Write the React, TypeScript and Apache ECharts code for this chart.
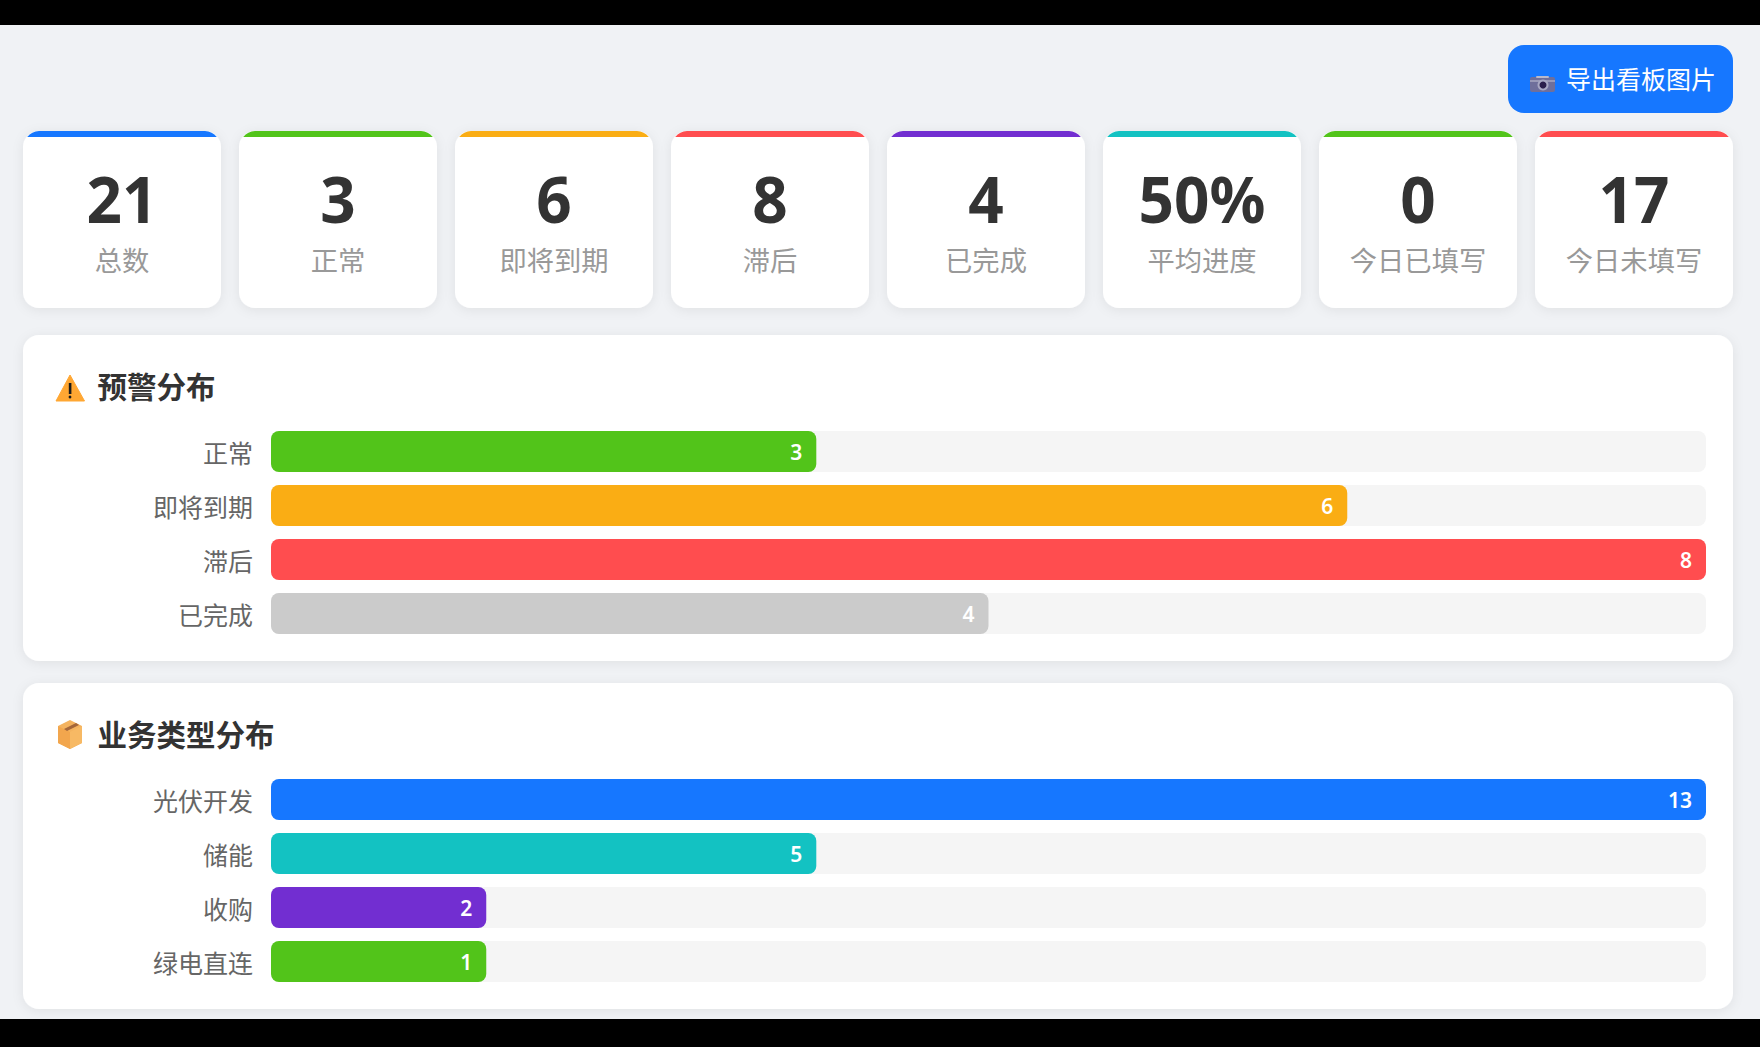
import React, { useEffect, useRef } from "react";
import * as echarts from "echarts";

const cardValues = ["21", "3", "6", "8", "4", "50%", "0", "17"];
const cardLabels = ["总数", "正常", "即将到期", "滞后", "已完成", "平均进度", "今日已填写", "今日未填写"];
const cardColors = ["#1677ff", "#52c41a", "#faad14", "#ff4d4f", "#722ed1", "#13c2c2", "#52c41a", "#ff4d4f"];

const alertCategories = ["正常", "即将到期", "滞后", "已完成"];
const alertCounts = [3, 6, 8, 4];
const alertBarPercents = [38, 75, 100, 50];
const alertColors = ["#52c41a", "#faad14", "#ff4d4f", "#cbcbcb"];

const bizCategories = ["光伏开发", "储能", "收购", "绿电直连"];
const bizCounts = [13, 5, 2, 1];
const bizBarPercents = [100, 38, 15, 15];
const bizColors = ["#1677ff", "#13c2c2", "#722ed1", "#52c41a"];

const FONT = '"Noto Sans CJK SC", "Noto Sans", sans-serif';
const NUM_FONT = '"Noto Sans", "Noto Sans CJK SC", sans-serif';

echarts.graphic.registerShape(
  "cardStrip",
  echarts.graphic.extendPath("M4.2 6 A16 16 0 0 1 16 0 L182 0 A16 16 0 0 1 193.8 6 Z", {})
);

const shadow = { shadowBlur: 12, shadowColor: "rgba(0,0,0,0.07)", shadowOffsetY: 2 };

function text(t: string, x: number, y: number, fill: string, fontSize: number, fontWeight: any, align = "center", fontFamily = FONT) {
  return {
    type: "text",
    z: 3,
    style: { text: t, x, y, fill, fontSize, fontWeight, fontFamily, textAlign: align, textVerticalAlign: "middle" },
  };
}

function buildGraphics() {
  const g: any[] = [
    { type: "rect", shape: { x: 0, y: 0, width: 1760, height: 25 }, style: { fill: "#000" } },
    { type: "rect", shape: { x: 0, y: 1019, width: 1760, height: 28 }, style: { fill: "#000" } },
    { type: "rect", shape: { x: 1508, y: 45, width: 225, height: 68, r: 16 }, style: { fill: "#1677ff" } },
    text("导出看板图片", 1641, 78, "#fff", 25, 400),
    // camera icon
    { type: "rect", z: 2, shape: { x: 1530, y: 77, width: 25, height: 15, r: 2 }, style: { fill: "#6f6f9b" } },
    { type: "rect", z: 2, shape: { x: 1536, y: 76, width: 13, height: 2, r: 1 }, style: { fill: "#b9b9cc" } },
    { type: "rect", z: 2, shape: { x: 1530, y: 80, width: 25, height: 2 }, style: { fill: "#9a9ab8" } },
    { type: "circle", z: 3, shape: { cx: 1543, cy: 85, r: 5.5 }, style: { fill: "#a8a8c4" } },
    { type: "circle", z: 3, shape: { cx: 1543, cy: 85, r: 3.5 }, style: { fill: "#2b1f4d" } },
    // panels
    { type: "rect", shape: { x: 23, y: 335, width: 1710, height: 326, r: 16 }, style: { fill: "#fff", ...shadow } },
    { type: "rect", shape: { x: 23, y: 683, width: 1710, height: 326, r: 16 }, style: { fill: "#fff", ...shadow } },
    text("预警分布", 97.5, 384.5, "#333", 29.5, 700, "left"),
    text("业务类型分布", 97.5, 732.5, "#333", 29.5, 700, "left"),
    // warning icon
    { type: "polygon", z: 2, shape: { points: [[70, 375], [84.5, 401], [56, 401]] }, style: { fill: "#ffa733", lineJoin: "round", stroke: "#ffa733", lineWidth: 1 } },
    { type: "rect", z: 3, shape: { x: 68.8, y: 383, width: 2.6, height: 11 }, style: { fill: "#1a1a1a" } },
    { type: "circle", z: 3, shape: { cx: 70, cy: 397, r: 1.4 }, style: { fill: "#1a1a1a" } },
    // package icon
    { type: "polygon", z: 2, shape: { points: [[70, 720], [82, 726], [82, 743], [70, 749], [58, 743], [58, 726]] }, style: { fill: "#f4b35f" } },
    { type: "polygon", z: 3, shape: { points: [[70, 732], [82, 726], [82, 743], [70, 749]] }, style: { fill: "#f7b964" } },
    { type: "polygon", z: 3, shape: { points: [[70, 732], [58, 726], [58, 743], [70, 749]] }, style: { fill: "#f2a64d" } },
    { type: "polygon", z: 3, shape: { points: [[64, 729], [76, 723], [79, 725], [67, 731]] }, style: { fill: "#a5673a" } },
  ];
  cardValues.forEach((v, i) => {
    const x = 23 + i * 216;
    g.push({ type: "rect", shape: { x, y: 131, width: 198, height: 177, r: 16 }, style: { fill: "#fff", ...shadow } });
    g.push({ type: "cardStrip", z: 2, x, y: 131, style: { fill: cardColors[i] } });
    g.push({ ...text(v, x + 99, 0, "#333", 62, 700, "center", NUM_FONT), y: 197.5, scaleY: 1.05 });
    g.push(text(cardLabels[i], x + 99, 259, "#999", 27.3, 400));
  });
  return g;
}

function barSeries(gridIndex: number, values: number[], counts: number[], colors: string[]) {
  return {
    type: "bar",
    xAxisIndex: gridIndex,
    yAxisIndex: gridIndex,
    barWidth: 41,
    showBackground: true,
    backgroundStyle: { color: "#f5f5f5", borderRadius: 8 },
    data: values.map((value, i) => ({ value, itemStyle: { color: colors[i], borderRadius: 8 } })),
    label: {
      show: true,
      position: "insideRight",
      distance: 14,
      color: "#fff",
      fontSize: 21,
      fontWeight: 600,
      fontFamily: NUM_FONT,
      formatter: (p: any) => String(counts[p.dataIndex]),
    },
  };
}

function catAxis(gridIndex: number, data: string[]) {
  return {
    type: "category",
    gridIndex,
    inverse: true,
    data,
    axisLine: { show: false },
    axisTick: { show: false },
    axisLabel: { color: "#666", fontSize: 25, fontFamily: FONT, margin: 18, padding: [0, 0, 4, 0] },
  };
}

export default function App() {
  const ref = useRef<HTMLDivElement>(null);
  useEffect(() => {
    document.body.style.margin = "0";
    const chart = echarts.init(ref.current!, null, { renderer: "svg" });
    chart.setOption({
      animation: false,
      backgroundColor: "#f0f2f5",
      graphic: { elements: buildGraphics() },
      grid: [
        { left: 271, top: 424.5, width: 1435, height: 216 },
        { left: 271, top: 772.5, width: 1435, height: 216 },
      ],
      xAxis: [
        { type: "value", gridIndex: 0, min: 0, max: 100, show: false },
        { type: "value", gridIndex: 1, min: 0, max: 100, show: false },
      ],
      yAxis: [catAxis(0, alertCategories), catAxis(1, bizCategories)],
      series: [
        barSeries(0, alertBarPercents, alertCounts, alertColors),
        barSeries(1, bizBarPercents, bizCounts, bizColors),
      ],
    });
    return () => chart.dispose();
  }, []);
  return <div ref={ref} style={{ position: "absolute", left: 0, top: 0, width: 1760, height: 1047 }} />;
}
